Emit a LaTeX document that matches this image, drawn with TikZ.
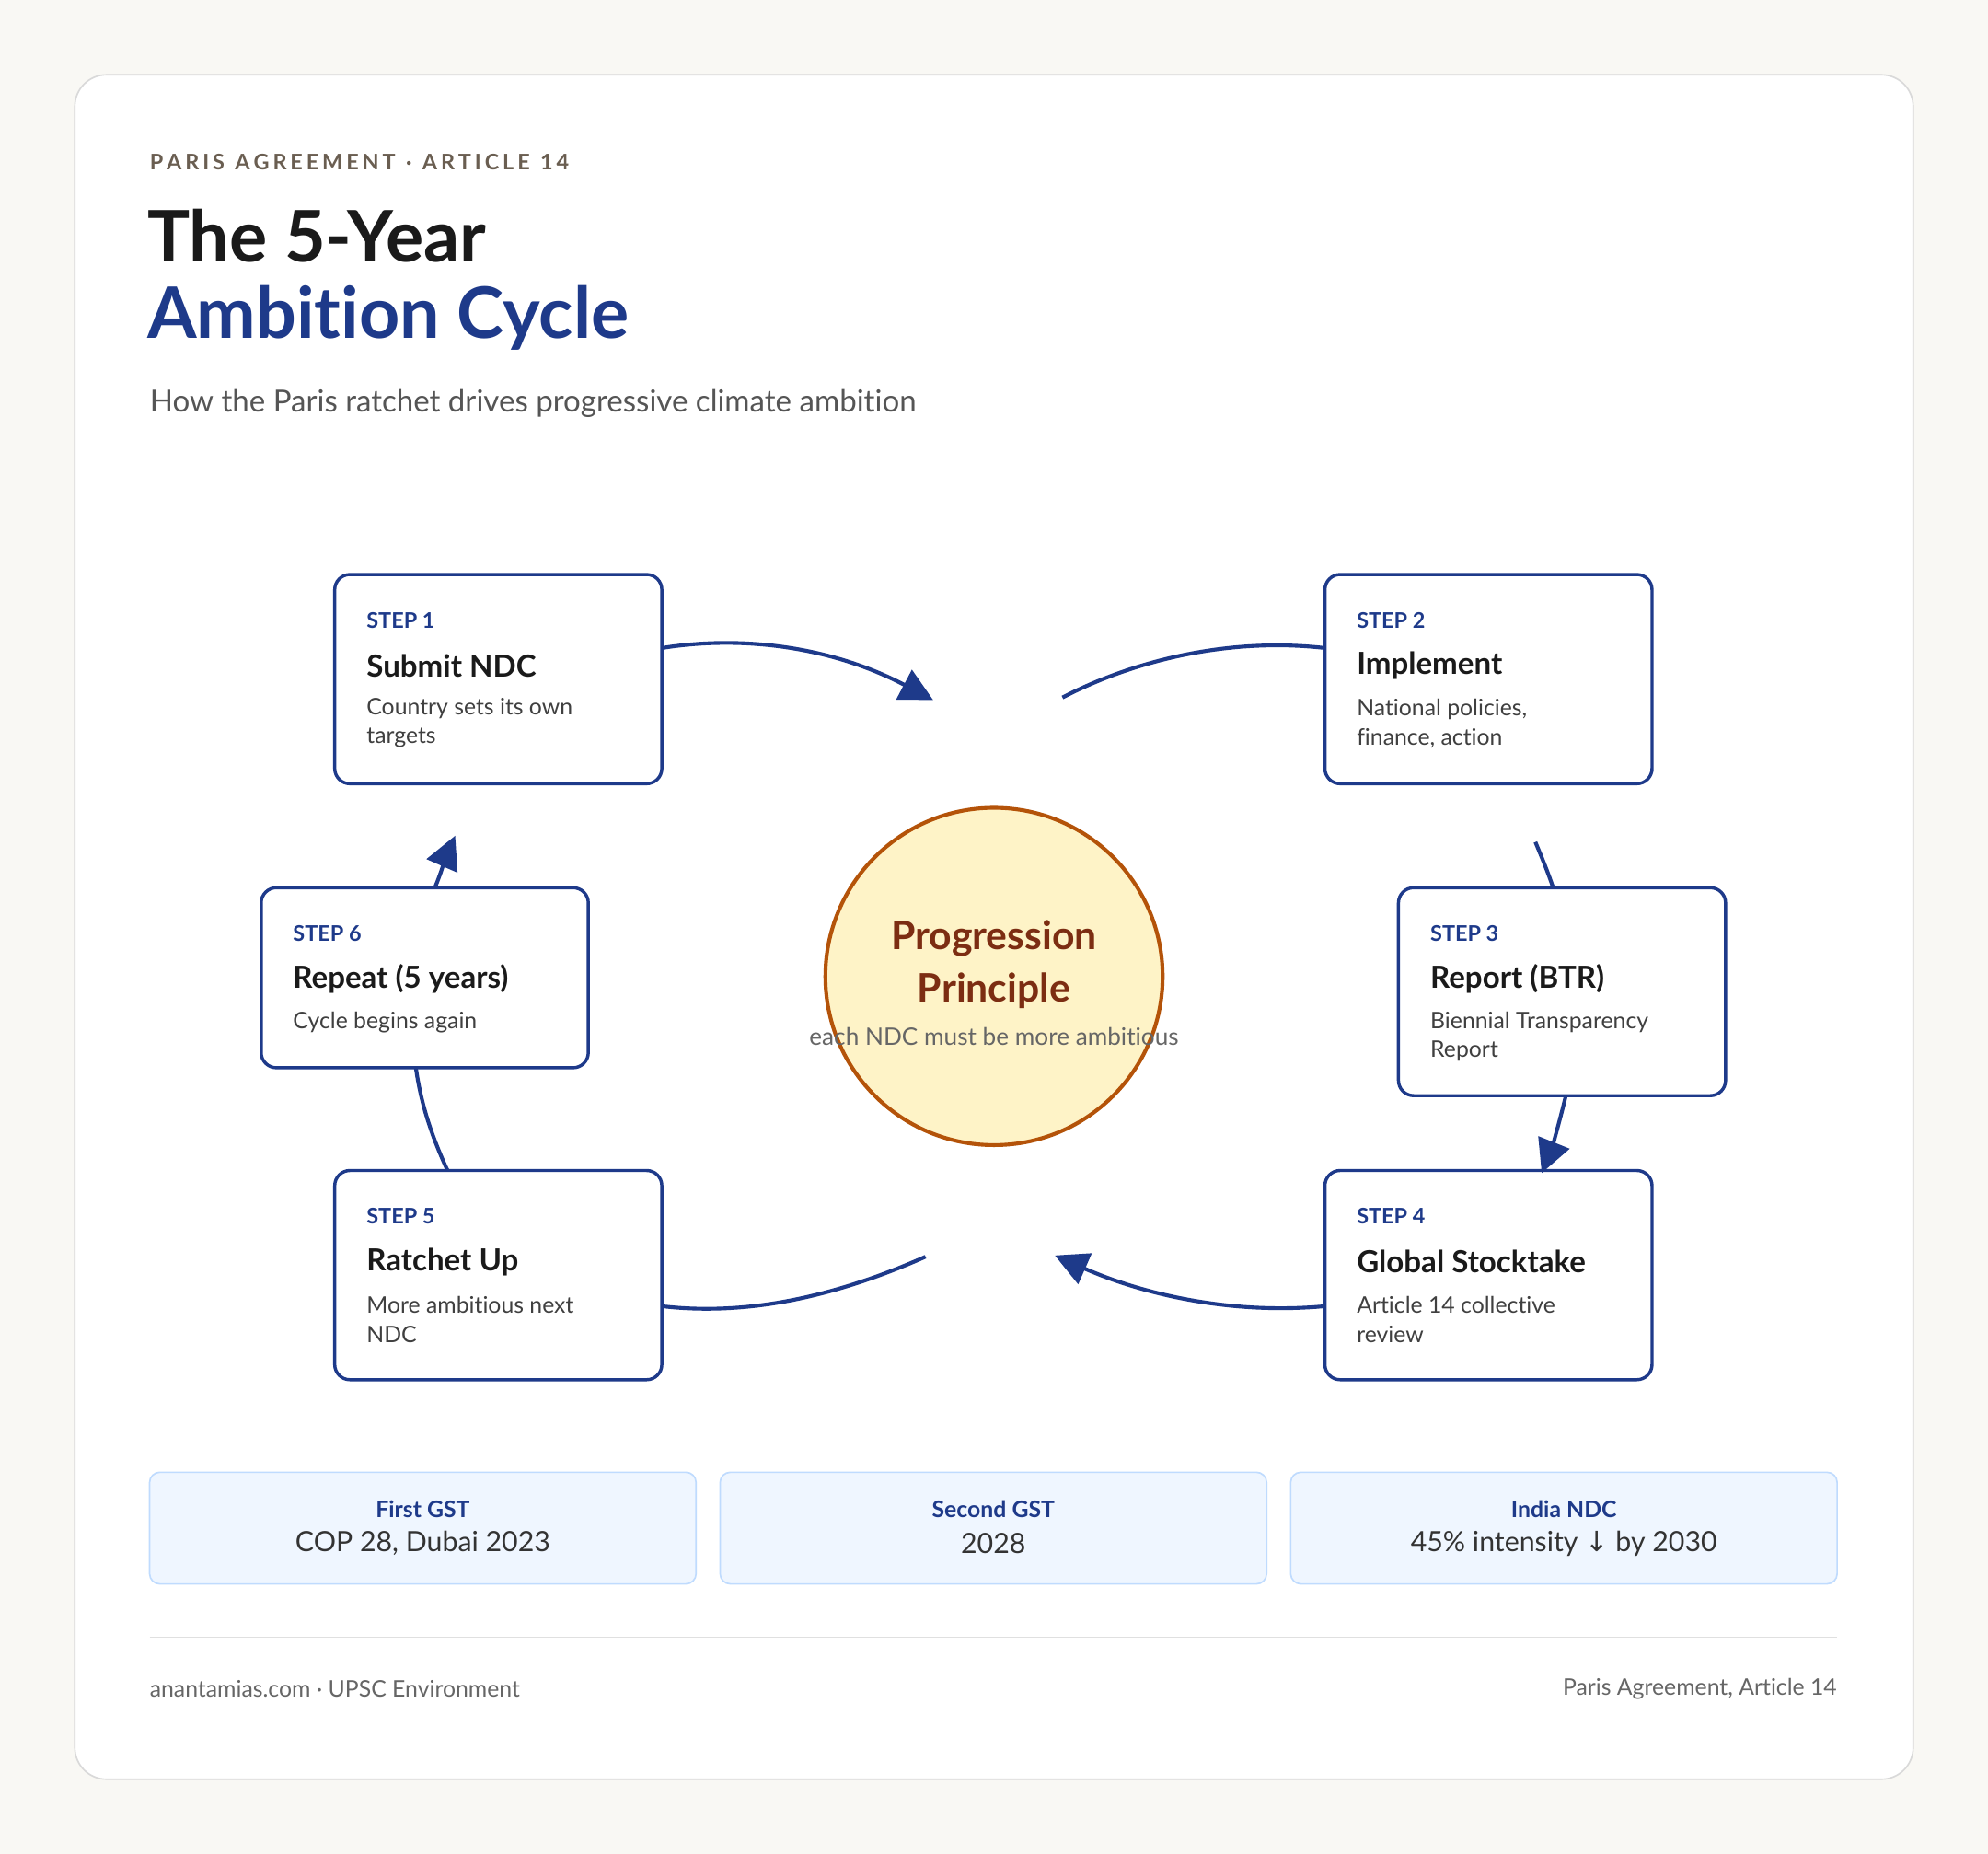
\documentclass[tikz,border=0pt]{standalone}
\usepackage{fontspec}
\setmainfont{Lato}[Ligatures=NoCommon]
\usetikzlibrary{arrows.meta}
\definecolor{bg}{HTML}{F9F8F4}
\definecolor{navy}{HTML}{1E3A8A}
\definecolor{ink}{HTML}{1A1A1A}
\definecolor{mut}{HTML}{555555}
\definecolor{brn}{HTML}{7C2D12}
\definecolor{orn}{HTML}{B45309}
\definecolor{yel}{HTML}{FEF3C7}
\definecolor{ibg}{HTML}{EFF6FF}
\definecolor{ibd}{HTML}{BFDBFE}
\newcommand{\fs}[1]{\fontsize{#1}{#1}\selectfont}
\begin{document}
\begin{tikzpicture}[x=1pt,y=-1pt,
 stepbox/.style={draw=navy,line width=2.5pt,rounded corners=12pt,fill=white},
 lab/.style={anchor=west,inner sep=0pt},
 arr/.style={navy,line width=3pt,-{Triangle[length=26pt,width=26pt]}},
 ln/.style={navy,line width=3pt},
 ibox/.style={draw=ibd,fill=ibg,line width=1.2pt,rounded corners=8pt}]
\fill[bg] (0,0) rectangle (1568,1462);
\useasboundingbox (0,0) rectangle (1568,1462);
\draw[fill=white,draw=black!15,line width=1.2pt,rounded corners=25pt] (59,59) rectangle (1509,1403);
\node[lab,text=mut!80!brown] (kick) at (118,128) {\fs{17}\bfseries P\,A\,R\,I\,S\ \ A\,G\,R\,E\,E\,M\,E\,N\,T\ \ ·\ \ A\,R\,T\,I\,C\,L\,E\ \ 1\,4};
\node[lab,text=ink] (t1) at (116,186) {\fs{56}\bfseries The 5-Year};
\node[lab,text=navy] (t2) at (116,251) {\fs{56}\bfseries Ambition Cycle};
\node[lab,text=mut] (sub) at (118,318) {\fs{24}How the Paris ratchet drives progressive climate ambition};
% step boxes
\foreach \n/\x/\y/\h/\s/\t/\a/\b in {
 1/264/453/165/STEP 1/Submit NDC/Country sets its own/targets,
 2/1045/453/165/STEP 2/Implement/{National policies,}/{finance, action},
 3/1103/700/164/STEP 3/Report (BTR)/Biennial Transparency/Report,
 4/1045/923/165/STEP 4/Global Stocktake/Article 14 collective/review,
 5/264/923/165/STEP 5/Ratchet Up/More ambitious next/NDC,
 6/206/700/142/STEP 6/Repeat (5 years)/Cycle begins again/{}}{
 \draw[stepbox] (\x,\y) rectangle ++(258,\h);
 \node[lab,text=navy] (s\n) at (\x+25,\y+36) {\fs{17}\bfseries \s};
 \node[lab,text=ink] (h\n) at (\x+25,\y+72) {\fs{24}\bfseries \t};
 \node[lab,text=black!75] (d\n) at (\x+25,\y+106) {\fs{18}\a};
 \node[lab,text=black!75] (e\n) at (\x+25,\y+129) {\fs{18}\b};
}
% circle
\node[circle,draw=orn,fill=yel,line width=3pt,minimum size=266pt] (c) at (784,770) {};
\node[text=brn] (p1) at (784,740) {\fs{31}\bfseries Progression};
\node[text=brn] (p2) at (784,781) {\fs{31}\bfseries Principle};
\node[text=black!60] (p3) at (784,817) {\fs{19}each NDC must be more ambitious};
% connectors
\coordinate (a1) at (522,511); \coordinate (a2) at (736,552);
\coordinate (b1) at (838,550); \coordinate (b2) at (1045,511);
\coordinate (c1) at (1211,664); \coordinate (c2) at (1225,700);
\coordinate (d1) at (1235,864); \coordinate (d2) at (1216,925);
\coordinate (e1) at (1045,1030); \coordinate (e2) at (832,990);
\coordinate (f1) at (730,991); \coordinate (f2) at (522,1030);
\coordinate (g1) at (353,923); \coordinate (g2) at (328,842);
\coordinate (h1) at (343,700); \coordinate (h2) at (359,659);
\draw[arr] (a1) .. controls (590,500) and (660,512) .. (a2);
\draw[ln] (b1) .. controls (900,518) and (975,503) .. (b2);
\draw[ln] (c1) .. controls (1216,676) and (1221,688) .. (c2);
\draw[arr] (d1) .. controls (1230,885) and (1224,905) .. (d2);
\draw[arr] (e1) .. controls (970,1037) and (900,1020) .. (e2);
\draw[ln] (f1) .. controls (660,1022) and (590,1038) .. (f2);
\draw[ln] (g1) .. controls (340,895) and (332,870) .. (g2);
\draw[arr] (h1) .. controls (348,688) and (352,675) .. (h2);
% info boxes
\foreach \i/\x/\l/\v in {1/118/First GST/{COP 28, Dubai 2023},2/568/Second GST/2028,3/1018/India NDC/{45\% intensity {\fontspec{DejaVu Sans}↓} by 2030}}{
 \draw[ibox] (\x,1161) rectangle ++(431,88);
 \node[text=navy] (il\i) at (\x+215.5,1190) {\fs{18}\bfseries \l};
 \node[text=black!80] (iv\i) at (\x+215.5,1217) {\fs{22}\v};
}
\draw[black!12,line width=1.2pt] (118,1291) -- (1449,1291);
\node[lab,text=black!60] (fl) at (118,1332) {\fs{18}anantamias.com · UPSC Environment};
\node[anchor=east,inner sep=0pt,text=black!60] (fr) at (1449,1332) {\fs{18}Paris Agreement, Article 14};
\end{tikzpicture}
\end{document}
